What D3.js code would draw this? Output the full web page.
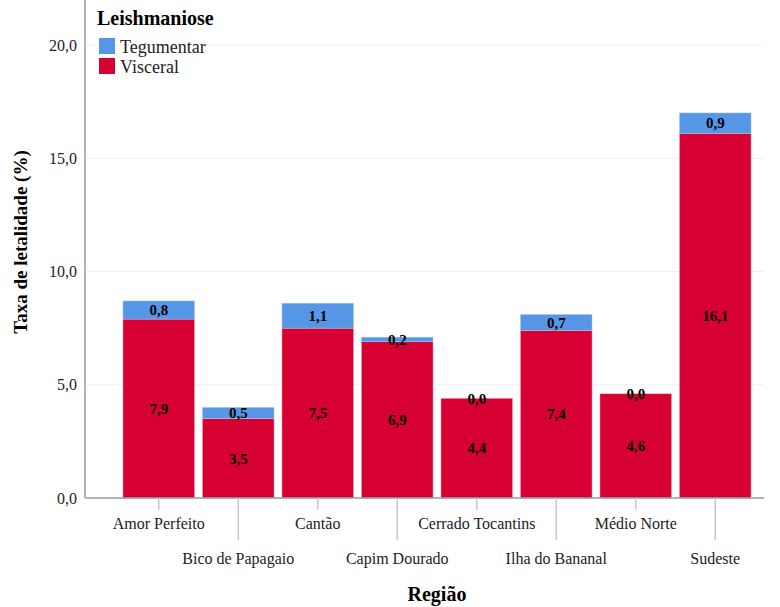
<!DOCTYPE html>
<html>
<head>
<meta charset="utf-8">
<script src="https://cdn.jsdelivr.net/npm/d3@7"></script>
<style>
  body { margin: 0; background: #fff; }
</style>
</head>
<body>
<svg id="chart" width="780" height="607"></svg>
<script>
const regions = ["Amor Perfeito", "Bico de Papagaio", "Cantão", "Capim Dourado",
    "Cerrado Tocantins", "Ilha do Bananal", "Médio Norte", "Sudeste"];
const visceral = [7.9, 3.5, 7.5, 6.9, 4.4, 7.4, 4.6, 16.1];
const tegumentar = [0.8, 0.5, 1.1, 0.2, 0.0, 0.7, 0.0, 0.9];
const yTicks = [0, 5, 10, 15, 20];

const seriesNames = ["Visceral", "Tegumentar"];
const colors = { Visceral: "#d70033", Tegumentar: "#5596e6" };
const FONT = "Liberation Serif";

const svg = d3.select("#chart");
const plotLeft = 85, plotRight = 764, plotTop = 0, plotBottom = 498;

const x = d3.scaleBand()
    .domain(regions)
    .range([119, 755])
    .paddingInner(0.1)
    .paddingOuter(0.05);

const y = d3.scaleLinear()
    .domain([0, 20])
    .range([plotBottom, 45]);

const fmt = v => v.toFixed(1).replace(".", ",");

// gridlines
svg.append("g")
    .selectAll("line")
    .data(yTicks.filter(d => d > 0))
    .join("line")
    .attr("x1", plotLeft).attr("x2", plotRight)
    .attr("y1", d => y(d)).attr("y2", d => y(d))
    .attr("stroke", "#eef0f4")
    .attr("stroke-width", 1);

// stacked data
const rows = regions.map((r, i) => ({ region: r, Visceral: visceral[i], Tegumentar: tegumentar[i] }));
const stack = d3.stack().keys(seriesNames)(rows);

const layers = svg.append("g")
    .selectAll("g")
    .data(stack)
    .join("g")
    .attr("fill", d => colors[d.key])
    .attr("stroke", d => d.key === "Visceral" ? "#f2a6b8" : "#a8c8f2")
    .attr("stroke-width", 0.5);

layers.selectAll("rect")
    .data(d => d)
    .join("rect")
    .attr("x", d => x(d.data.region))
    .attr("width", x.bandwidth())
    .attr("y", d => y(d[1]))
    .attr("height", d => Math.max(0, y(d[0]) - y(d[1])));

// value labels
const labels = svg.append("g");
stack.forEach(layer => {
    labels.selectAll(null)
        .data(layer)
        .join("text")
        .attr("x", d => x(d.data.region) + x.bandwidth() / 2)
        .attr("y", d => (y(d[0]) + y(d[1])) / 2)
        .attr("dy", "0.35em")
        .attr("text-anchor", "middle")
        .attr("fill", "#000")
        .attr("font-weight", "bold")
        .attr("font-size", 15)
        .text(d => fmt(d.data[layer.key]));
});

// axes lines
svg.append("line")
    .attr("x1", plotLeft).attr("x2", plotLeft)
    .attr("y1", plotTop).attr("y2", plotBottom)
    .attr("stroke", "#9a9a9a").attr("stroke-width", 1.5);
svg.append("line")
    .attr("x1", plotLeft).attr("x2", plotRight)
    .attr("y1", plotBottom).attr("y2", plotBottom)
    .attr("stroke", "#9a9a9a").attr("stroke-width", 1.5);

// y tick labels
svg.append("g")
    .selectAll("text")
    .data(yTicks)
    .join("text")
    .attr("x", 77)
    .attr("y", d => y(d))
    .attr("dy", "0.35em")
    .attr("text-anchor", "end")
    .attr("font-size", 16)
    .attr("fill", "#222")
    .text(d => fmt(d));

// x ticks, staggered
const xt = svg.append("g")
    .selectAll("g")
    .data(regions)
    .join("g")
    .attr("transform", d => `translate(${x(d) + x.bandwidth() / 2},0)`);

xt.append("line")
    .attr("y1", plotBottom)
    .attr("y2", (d, i) => i % 2 === 0 ? 510 : 540)
    .attr("stroke", "#c8c8c8")
    .attr("stroke-width", 1.5);

xt.append("text")
    .attr("y", (d, i) => i % 2 === 0 ? 529 : 564)
    .attr("text-anchor", "middle")
    .attr("font-size", 16)
    .attr("fill", "#222")
    .text(d => d);

// axis titles
svg.append("text")
    .attr("x", 437).attr("y", 601)
    .attr("text-anchor", "middle")
    .attr("font-weight", "bold")
    .attr("font-size", 20)
    .text("Região");

svg.append("text")
    .attr("transform", "translate(27,242) rotate(-90)")
    .attr("text-anchor", "middle")
    .attr("font-weight", "bold")
    .attr("font-size", 19)
    .text("Taxa de letalidade (%)");

// legend
const legend = svg.append("g").attr("transform", "translate(97,0)");
legend.append("text")
    .attr("x", 0).attr("y", 25)
    .attr("font-weight", "bold")
    .attr("font-size", 20)
    .text("Leishmaniose");

const legendItems = ["Tegumentar", "Visceral"];
const li = legend.selectAll("g.item")
    .data(legendItems)
    .join("g")
    .attr("class", "item")
    .attr("transform", (d, i) => `translate(0,${38 + i * 20})`);
li.append("rect")
    .attr("x", 2).attr("width", 16).attr("height", 16)
    .attr("fill", d => colors[d]);
li.append("text")
    .attr("x", 23).attr("y", 15)
    .attr("font-size", 18)
    .attr("fill", "#222")
    .text(d => d);

svg.selectAll("text").attr("font-family", FONT);
</script>
</body>
</html>
